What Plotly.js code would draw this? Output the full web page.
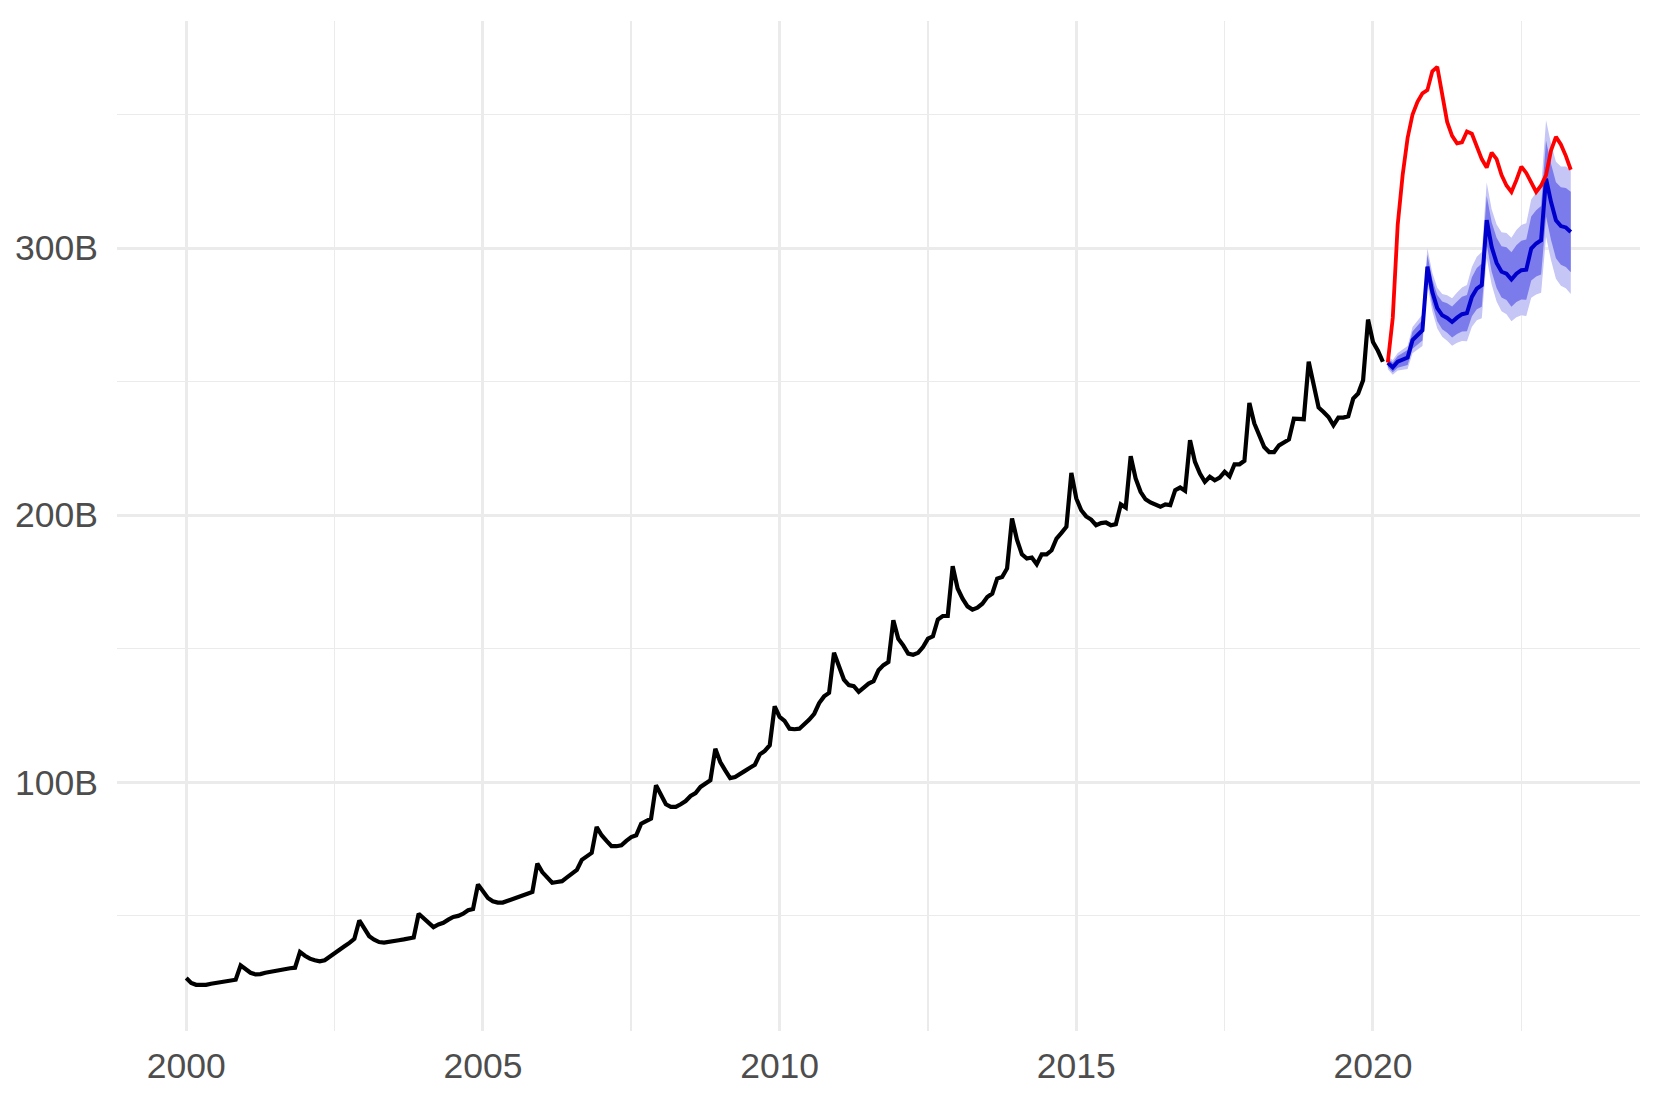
<!DOCTYPE html>
<html>
<head>
<meta charset="utf-8">
<script src="https://cdn.plot.ly/plotly-3.0.1.min.js"></script>
<style>
  html, body { margin: 0; padding: 0; background: #ffffff; }
  #chart { width: 1661px; height: 1107px; }
</style>
</head>
<body>
<div id="chart"></div>
<script>
// ---- Data (billions), monthly ----
// History: Jan 2000 .. Mar 2020
const histStart = { year: 2000, month: 1 };
const histValues = [
  26.6, 24.8, 24.1, 24.0, 24.1, 24.5, 24.8, 24.9, 25.3, 25.6, 26.0, 31.4,
  30.0, 28.6, 28.0, 28.1, 28.6, 29.0, 29.3, 29.5, 29.9, 30.3, 30.5, 36.4,
  35.0, 33.9, 33.3, 32.9, 33.3, 34.5, 36.0, 37.3, 38.5, 39.8, 41.3, 48.2,
  45.1, 42.3, 41.0, 40.1, 39.9, 40.1, 40.5, 40.8, 41.1, 41.3, 41.8, 50.7,
  48.9, 47.3, 45.7, 46.7, 47.3, 48.5, 49.5, 49.9, 50.7, 52.0, 52.5, 61.7,
  58.9, 56.6, 55.4, 54.9, 54.9, 55.5, 56.4, 56.6, 57.4, 58.2, 58.9, 69.5,
  66.3, 64.2, 62.3, 62.6, 62.9, 64.3, 65.9, 67.1, 70.9, 72.4, 73.5, 83.2,
  80.1, 78.0, 76.0, 76.0, 76.3, 78.0, 79.4, 80.1, 84.4, 85.4, 86.3, 98.8,
  95.0, 91.7, 90.7, 90.7, 91.7, 92.9, 94.8, 95.9, 98.2, 99.7, 100.7, 112.5,
  107.5, 104.4, 101.5, 101.9, 102.9, 104.2, 105.4, 106.5, 110.4, 111.7, 113.8, 128.4,
  124.4, 122.9, 120.0, 119.8, 120.0, 121.6, 123.4, 125.6, 129.6, 132.1, 133.4, 148.4,
  143.1, 138.4, 136.3, 135.9, 133.8, 135.6, 136.9, 137.8, 141.9, 143.8, 145.0, 160.6,
  153.7, 151.2, 148.1, 147.7, 148.4, 150.6, 153.7, 154.6, 160.9, 162.2, 162.2, 180.8,
  172.5, 168.7, 165.8, 164.6, 165.3, 166.8, 169.3, 170.6, 176.2, 176.8, 180.0, 198.7,
  190.8, 185.3, 183.7, 184.1, 181.6, 185.3, 185.3, 186.8, 191.2, 193.3, 195.6, 215.8,
  206.2, 201.8, 199.5, 198.3, 196.2, 197.0, 197.2, 196.2, 196.6, 204.0, 202.8, 222.0,
  213.7, 208.7, 205.9, 204.7, 203.9, 203.1, 204.0, 203.7, 209.3, 210.3, 209.1, 228.0,
  219.9, 215.5, 212.4, 214.3, 213.0, 214.0, 216.2, 214.5, 219.0, 219.0, 220.3, 242.0,
  234.3, 229.9, 225.5, 223.6, 223.6, 226.1, 227.4, 228.3, 236.1, 236.1, 235.9, 257.4,
  248.0, 240.3, 238.6, 236.7, 233.6, 236.5, 236.5, 237.0, 243.6, 245.5, 250.5, 273.2,
  264.8, 261.5, 257.4
];

// Forecast period: Apr 2020 .. May 2023
const fcStart = { year: 2020, month: 4 };
const actualValues = [
  257.1, 273.8, 308.7, 327.3, 341.2, 350.0, 354.7, 357.9, 359.1,
  366.2, 367.8, 357.9, 347.2, 342.0, 339.2, 339.6, 343.6, 342.8, 338.4, 333.3, 330.1, 335.7,
  333.3, 327.3, 323.4, 321.0, 325.4, 330.5, 328.1, 324.2, 321.0, 323.4, 327.3, 336.5,
  341.6, 338.8, 334.5, 329.3
];
const fcMean = [
  257.0, 255.3, 257.4, 258.2, 259.0, 265.5, 267.2, 269.2, 293.0,
  283.5, 277.5, 274.8, 273.8, 272.3, 273.9, 275.2, 275.6, 281.7, 284.8, 286.1, 310.4,
  300.4, 294.4, 291.1, 290.4, 288.2, 290.4, 291.7, 291.9, 299.8, 301.7, 302.9, 326.0,
  317.3, 310.4, 308.2, 307.7, 306.0
];
const fcLo80 = [
  255.4, 253.5, 255.2, 255.7, 256.2, 262.3, 263.7, 265.4, 288.5,
  278.8, 272.6, 269.6, 268.3, 266.5, 267.8, 268.7, 268.8, 274.4, 277.1, 278.0, 301.3,
  291.2, 285.0, 281.5, 280.5, 278.0, 279.8, 280.7, 280.6, 287.8, 289.3, 290.1, 311.8,
  303.1, 296.2, 293.7, 292.9, 290.9
];
const fcHi80 = [
  258.6, 257.1, 259.6, 260.7, 261.8, 268.7, 270.7, 273.0, 297.5,
  288.2, 282.4, 280.0, 279.3, 278.1, 280.0, 281.7, 282.4, 289.0, 292.5, 294.2, 319.5,
  309.6, 303.8, 300.7, 300.3, 298.4, 301.0, 302.7, 303.2, 311.8, 314.1, 315.7, 340.2,
  331.5, 324.6, 322.7, 322.5, 321.1
];
const fcLo95 = [
  254.6, 252.5, 254.1, 254.4, 254.7, 260.6, 261.8, 263.3, 286.1,
  276.3, 269.9, 266.8, 265.3, 263.4, 264.5, 265.2, 265.1, 270.5, 272.9, 273.7, 296.3,
  286.3, 280.0, 276.3, 275.2, 272.6, 274.1, 274.8, 274.5, 281.4, 282.6, 283.2, 304.2,
  295.5, 288.5, 285.9, 284.9, 282.8
];
const fcHi95 = [
  259.4, 258.1, 260.7, 262.0, 263.3, 270.4, 272.6, 275.1, 299.9,
  290.7, 285.1, 282.8, 282.3, 281.2, 283.3, 285.2, 286.1, 292.9, 296.7, 298.5, 324.5,
  314.5, 308.8, 305.9, 305.6, 303.8, 306.7, 308.6, 309.3, 318.2, 320.8, 322.6, 347.8,
  339.1, 332.3, 330.5, 330.5, 329.2
];

const yTickVals = [100, 200, 300];
const yTickText = ["100B", "200B", "300B"];
const xTickVals = [2000, 2005, 2010, 2015, 2020];
const xTickText = ["2000", "2005", "2010", "2015", "2020"];

// ---- helpers: monthly time index -> decimal year ----
function monthAxis(start, n) {
  const out = [];
  for (let i = 0; i < n; i++) out.push(start.year + (start.month - 1 + i) / 12);
  return out;
}
const xHist = monthAxis(histStart, histValues.length);
const xFc = monthAxis(fcStart, fcMean.length);

const lightBand = "rgb(197,197,246)";
const darkBand = "rgb(123,123,236)";

const traces = [
  { x: xHist, y: histValues, type: "scatter", mode: "lines",
    line: { color: "#000000", width: 4.2 }, hoverinfo: "skip" },
  { x: xFc, y: fcLo95, type: "scatter", mode: "lines",
    line: { width: 0, color: lightBand }, hoverinfo: "skip" },
  { x: xFc, y: fcHi95, type: "scatter", mode: "lines", fill: "tonexty",
    fillcolor: lightBand, line: { width: 0, color: lightBand }, hoverinfo: "skip" },
  { x: xFc, y: fcLo80, type: "scatter", mode: "lines",
    line: { width: 0, color: darkBand }, hoverinfo: "skip" },
  { x: xFc, y: fcHi80, type: "scatter", mode: "lines", fill: "tonexty",
    fillcolor: darkBand, line: { width: 0, color: darkBand }, hoverinfo: "skip" },
  { x: xFc, y: fcMean, type: "scatter", mode: "lines",
    line: { color: "#0000cc", width: 4 }, hoverinfo: "skip" },
  { x: xFc, y: actualValues, type: "scatter", mode: "lines",
    line: { color: "#ff0000", width: 3.8 }, hoverinfo: "skip" }
];

const font = { family: "Liberation Sans, Arial, Helvetica, sans-serif", size: 35.5, color: "#4d4d4d" };

const layout = {
  width: 1661, height: 1107,
  paper_bgcolor: "#ffffff", plot_bgcolor: "#ffffff",
  showlegend: false,
  hovermode: false,
  margin: { l: 117, r: 21, t: 21, b: 76, pad: 0 },
  font: font,
  xaxis: {
    range: [1998.833, 2024.5],
    tickmode: "array", tickvals: xTickVals, ticktext: xTickText,
    showgrid: true, gridcolor: "#ebebeb", gridwidth: 3,
    zeroline: false, showline: false, ticks: "",
    tickfont: font, ticklabelstandoff: 10,
    minor: { tickmode: "linear", tick0: 2000, dtick: 2.5, showgrid: true, gridcolor: "#ebebeb", gridwidth: 1.6, ticks: "" }
  },
  yaxis: {
    range: [6.8, 385],
    tickmode: "array", tickvals: yTickVals, ticktext: yTickText,
    showgrid: true, gridcolor: "#ebebeb", gridwidth: 3,
    zeroline: false, showline: false, ticks: "",
    tickfont: font, ticklabelstandoff: 18,
    minor: { tickmode: "linear", tick0: 0, dtick: 50, showgrid: true, gridcolor: "#ebebeb", gridwidth: 1.6, ticks: "" }
  }
};

Plotly.newPlot("chart", traces, layout, { staticPlot: true, displayModeBar: false });
</script>
</body>
</html>
